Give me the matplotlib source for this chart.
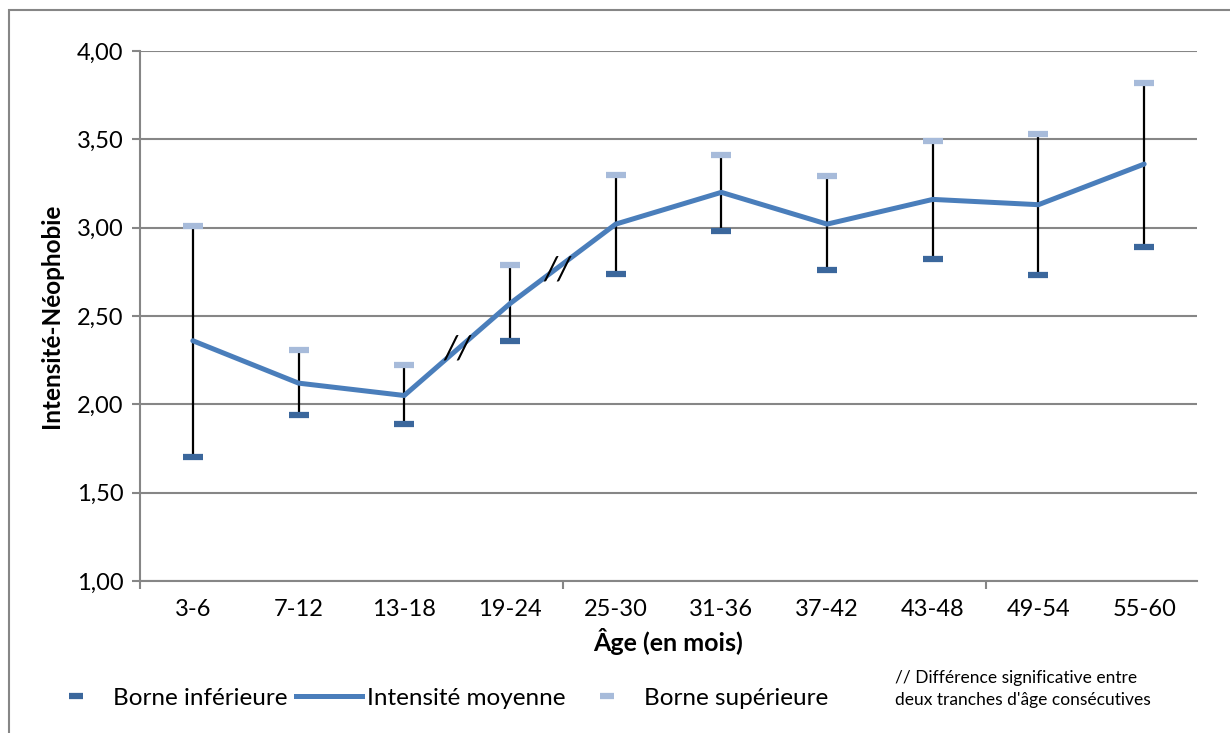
import numpy as np
import matplotlib.pyplot as plt
from matplotlib.lines import Line2D
from matplotlib.patches import Rectangle

plt.rcParams['font.family'] = ['Lato', 'DejaVu Sans']

# données
ages = ['3-6', '7-12', '13-18', '19-24', '25-30', '31-36', '37-42', '43-48', '49-54', '55-60']
moyenne = [2.36, 2.12, 2.05, 2.57, 3.02, 3.20, 3.02, 3.16, 3.13, 3.36]
borne_inf = [1.70, 1.94, 1.89, 2.36, 2.74, 2.98, 2.76, 2.82, 2.73, 2.89]
borne_sup = [3.01, 2.31, 2.22, 2.79, 3.30, 3.41, 3.29, 3.49, 3.53, 3.82]
# positions des "//" (entre deux tranches d'âge)
signif_x = [2.5, 3.45]
signif_y = [2.31, 2.76]

bleu = '#4A7EBB'
bleu_fonce = '#3B679C'
bleu_clair = '#A7BBDA'
gris = '#868686'

fig = plt.figure(figsize=(12.3, 7.33), dpi=100)
ax = fig.add_axes([140/1230, 1 - 581/733, 1057/1230, 530/733])

x = np.arange(len(ages))

ax.vlines(x, borne_inf, borne_sup, color='black', lw=1.6, zorder=2)
ax.plot(x, moyenne, color=bleu, lw=3.6, solid_capstyle='round', zorder=3)
ax.plot(x, borne_inf, ls='none', marker='_', ms=15, mew=4.5, color=bleu_fonce, zorder=4)
ax.plot(x, borne_sup, ls='none', marker='_', ms=15, mew=4.5, color=bleu_clair, zorder=4)

for sx, sy in zip(signif_x, signif_y):
    ax.text(sx, sy, '//', fontsize=24, style='italic', ha='center', va='center', zorder=5)

ax.set_xlim(-0.5, len(ages) - 0.5)
ax.set_ylim(1.0, 4.0)
ax.set_yticks(np.arange(1.0, 4.01, 0.5))
ax.set_yticklabels([f'{v:.2f}'.replace('.', ',') for v in np.arange(1.0, 4.01, 0.5)], fontsize=17)
ax.set_xticks([-0.5, 3.5, 7.5])
ax.set_xticklabels([])
ax.set_xticks(x, minor=True)
ax.set_xticklabels(ages, minor=True, fontsize=17)
ax.tick_params(axis='x', which='minor', length=0, pad=13)
ax.tick_params(axis='x', which='major', length=6, color=gris, width=1.5)
ax.tick_params(axis='y', length=6, color=gris, width=1.5, pad=6)

ax.grid(axis='y', color=gris, lw=1.5)
ax.set_axisbelow(True)
for s in ['top', 'right']:
    ax.spines[s].set_visible(False)
for s in ['left', 'bottom']:
    ax.spines[s].set_color(gris)
    ax.spines[s].set_linewidth(1.5)

ax.set_xlabel('Âge (en mois)', fontsize=18, fontweight='bold', labelpad=6)
ax.set_ylabel('Intensité-Néophobie', fontsize=17.5, fontweight='bold', labelpad=10)

handles = [
    Line2D([], [], ls='none', marker='_', ms=10, mew=4.5, color=bleu_fonce),
    Line2D([], [], color=bleu, lw=3.6),
    Line2D([], [], ls='none', marker='_', ms=10, mew=4.5, color=bleu_clair),
]
fig.legend(handles, ['Borne inférieure', 'Intensité moyenne', 'Borne supérieure'],
           loc='center left', bbox_to_anchor=(43/1230, 1 - 698/733), ncol=3,
           frameon=False, fontsize=17.5, handlelength=2.7, handletextpad=0.2,
           columnspacing=0.35, borderpad=0, borderaxespad=0)

fig.text(895/1230, 1 - 689/733, "// Différence significative entre\ndeux tranches d'âge consécutives",
         fontsize=12.5, ha='left', va='center', linespacing=1.5)

fig.patches.append(Rectangle((9/1230, -0.1), 1.2, 1 - 10/733 + 0.1, transform=fig.transFigure,
                             fill=False, edgecolor=gris, lw=1.5))

fig.savefig('out.png', dpi=100)
